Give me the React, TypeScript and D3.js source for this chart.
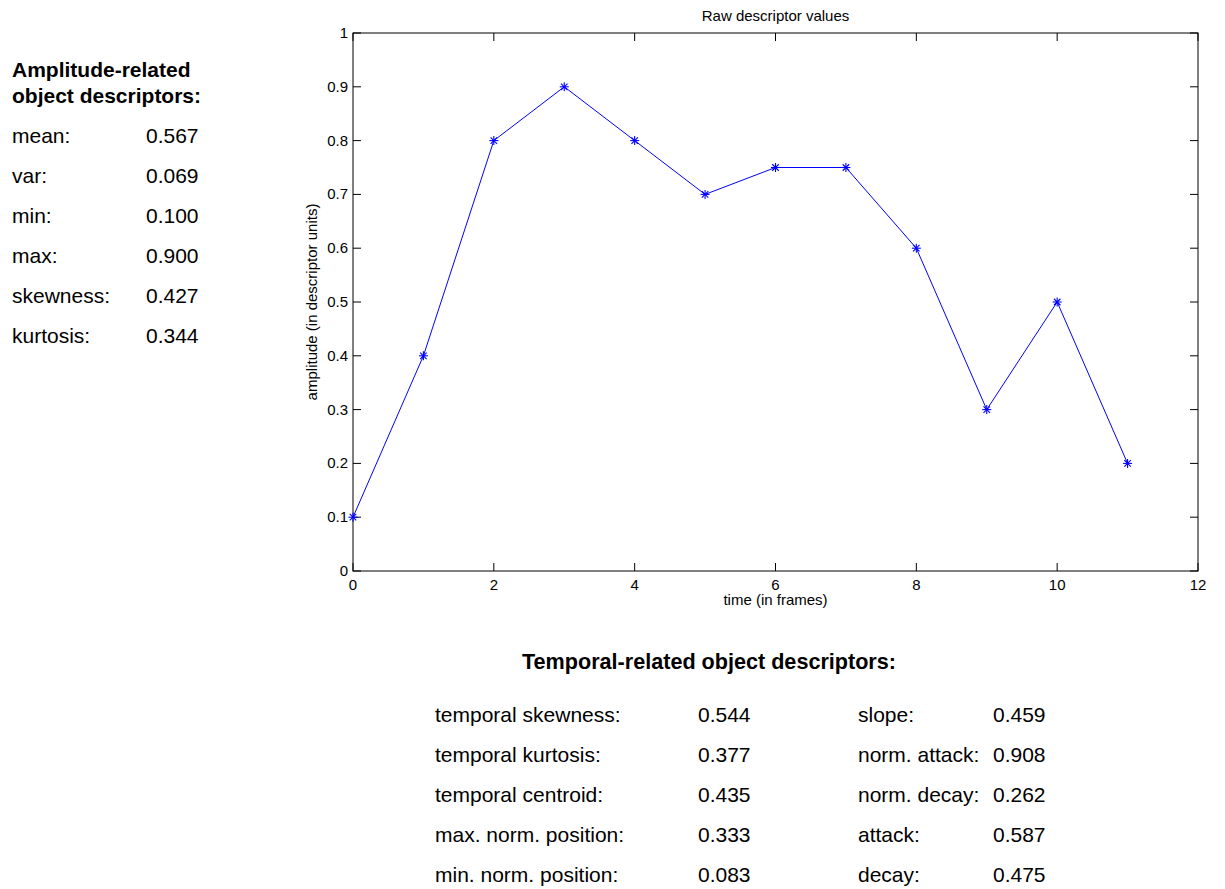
import React from "react";
import * as d3 from "d3";

// Raw descriptor frames
const frames = [0, 1, 2, 3, 4, 5, 6, 7, 8, 9, 10, 11];
const amplitude = [0.1, 0.4, 0.8, 0.9, 0.8, 0.7, 0.75, 0.75, 0.6, 0.3, 0.5, 0.2];

const xTicks = [0, 2, 4, 6, 8, 10, 12];
const yTicks = [0, 0.1, 0.2, 0.3, 0.4, 0.5, 0.6, 0.7, 0.8, 0.9, 1];

// Amplitude-related summary
const ampLabels = ["mean:", "var:", "min:", "max:", "skewness:", "kurtosis:"];
const ampValues = ["0.567", "0.069", "0.100", "0.900", "0.427", "0.344"];

// Temporal-related summary, two columns
const tempLabelsA = [
  "temporal skewness:",
  "temporal kurtosis:",
  "temporal centroid:",
  "max. norm. position:",
  "min. norm. position:",
];
const tempValuesA = ["0.544", "0.377", "0.435", "0.333", "0.083"];
const tempLabelsB = ["slope:", "norm. attack:", "norm. decay:", "attack:", "decay:"];
const tempValuesB = ["0.459", "0.908", "0.262", "0.587", "0.475"];

const W = 1225;
const H = 889;
const plot = { left: 353, right: 1198, top: 33, bottom: 571 };
const FONT = "'Liberation Sans', Arial, Helvetica, sans-serif";
const BLUE = "#0000ff";

export default function App() {
  const x = d3.scaleLinear().domain([0, 12]).range([plot.left, plot.right]);
  const y = d3.scaleLinear().domain([0, 1]).range([plot.bottom, plot.top]);
  const line = d3
    .line<number>()
    .x((_, i) => x(frames[i]))
    .y((d) => y(d));
  const tick = 8;
  const r = 4.5;
  // asterisk marker: plus and cross laid over each other
  const star = (cx: number, cy: number, k: number) => {
    const d = r * 0.72;
    return (
      <g key={k} stroke={BLUE} strokeWidth={1.1}>
        <line x1={cx} y1={cy - r} x2={cx} y2={cy + r} />
        <line x1={cx - r} y1={cy} x2={cx + r} y2={cy} />
        <line x1={cx - d} y1={cy - d} x2={cx + d} y2={cy + d} />
        <line x1={cx - d} y1={cy + d} x2={cx + d} y2={cy - d} />
      </g>
    );
  };

  const ampRowY = (i: number) => 143 + i * 40;
  const tempRowY = (i: number) => 722 + i * 40;

  return (
    <svg
      width={W}
      height={H}
      style={{ position: "absolute", left: 0, top: 0, background: "#fff" }}
      fontFamily={FONT}
    >
      <rect x={0} y={0} width={W} height={H} fill="#fff" />

      {/* left summary panel */}
      <g fontSize={21} fill="#000">
        <text x={12} y={77} fontWeight="bold">Amplitude-related</text>
        <text x={12} y={103} fontWeight="bold">object descriptors:</text>
        {ampLabels.map((l, i) => (
          <g key={l}>
            <text x={12} y={ampRowY(i)}>{l}</text>
            <text x={146} y={ampRowY(i)}>{ampValues[i]}</text>
          </g>
        ))}
      </g>

      {/* plot frame */}
      <rect
        x={plot.left}
        y={plot.top}
        width={plot.right - plot.left}
        height={plot.bottom - plot.top}
        fill="none"
        stroke="#000"
        strokeWidth={1}
      />
      <g stroke="#000" strokeWidth={1}>
        {xTicks.map((t) => (
          <g key={"xt" + t}>
            <line x1={x(t)} x2={x(t)} y1={plot.bottom} y2={plot.bottom - tick} />
            <line x1={x(t)} x2={x(t)} y1={plot.top} y2={plot.top + tick} />
          </g>
        ))}
        {yTicks.map((t) => (
          <g key={"yt" + t}>
            <line x1={plot.left} x2={plot.left + tick} y1={y(t)} y2={y(t)} />
            <line x1={plot.right} x2={plot.right - tick} y1={y(t)} y2={y(t)} />
          </g>
        ))}
      </g>
      <g fontSize={15} fill="#000">
        {xTicks.map((t) => (
          <text key={"xl" + t} x={x(t)} y={590} textAnchor="middle">
            {String(t)}
          </text>
        ))}
        {yTicks.map((t) => (
          <text key={"yl" + t} x={348} y={y(t) + 5} textAnchor="end">
            {String(t)}
          </text>
        ))}
        <text x={(plot.left + plot.right) / 2} y={605} textAnchor="middle">
          time (in frames)
        </text>
        <text
          transform={`translate(317,${(plot.top + plot.bottom) / 2}) rotate(-90)`}
          textAnchor="middle"
        >
          amplitude (in descriptor units)
        </text>
        <text x={(plot.left + plot.right) / 2} y={21} textAnchor="middle">
          Raw descriptor values
        </text>
      </g>

      {/* series */}
      <path d={line(amplitude) || ""} fill="none" stroke={BLUE} strokeWidth={1} />
      {amplitude.map((v, i) => star(x(frames[i]), y(v), i))}

      {/* temporal summary table */}
      <g fontSize={21} fill="#000">
        <text x={522} y={669} fontWeight="bold" fontSize={21.6}>
          Temporal-related object descriptors:
        </text>
        {tempLabelsA.map((l, i) => (
          <g key={l}>
            <text x={435} y={tempRowY(i)}>{l}</text>
            <text x={698} y={tempRowY(i)}>{tempValuesA[i]}</text>
            <text x={858} y={tempRowY(i)}>{tempLabelsB[i]}</text>
            <text x={993} y={tempRowY(i)}>{tempValuesB[i]}</text>
          </g>
        ))}
      </g>
    </svg>
  );
}
